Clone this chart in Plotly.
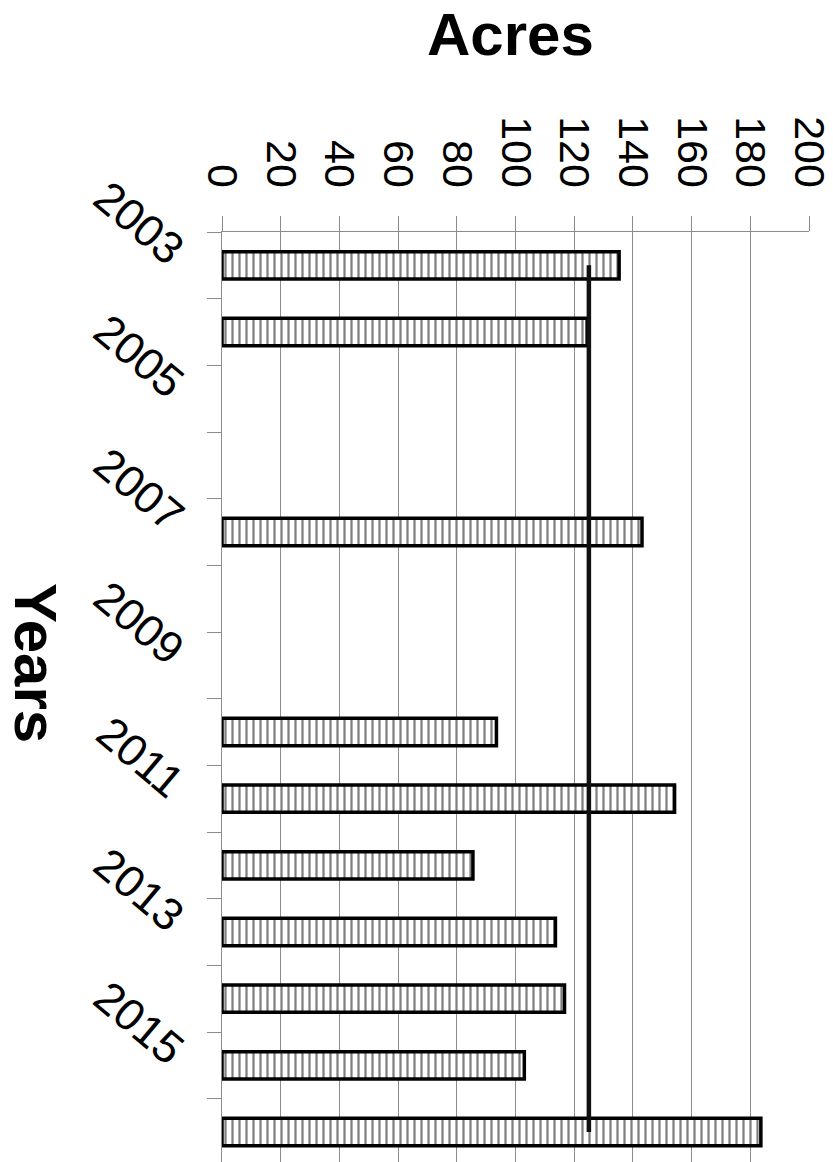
import plotly.graph_objects as go

years = [2003, 2004, 2005, 2006, 2007, 2008, 2009, 2010, 2011, 2012, 2013, 2014, 2015, 2016]
acres = [135.3, 124.4, None, None, 143.1, None, None, 93.5, 154.2, 85.5, 113.6, 116.7, 103.0, 183.6]
average_acres = [125.0] * len(years)
year_tick_labels = ["2003", "2005", "2007", "2009", "2011", "2013", "2015"]
year_tick_vals = [2003, 2005, 2007, 2009, 2011, 2013, 2015]
acre_ticks = [0, 20, 40, 60, 80, 100, 120, 140, 160, 180, 200]

FONT = "Liberation Sans, Arial, sans-serif"
GRID = "#8c8c8c"
W, H = 833, 1162
L, R, T, B = 222, 24, 232, 0
PW, PH = W - L - R, H - T - B

fig = go.Figure()
fig.add_trace(go.Bar(
    x=acres, y=years, orientation="h", width=0.41,
    marker=dict(color="white",
                line=dict(color="black", width=3.5),
                pattern=dict(shape="|", size=7, solidity=0.32,
                             fgcolor="black", bgcolor="white")),
    showlegend=False,
))
fig.add_trace(go.Scatter(
    x=average_acres, y=years, mode="lines",
    line=dict(color="#111111", width=4.5), showlegend=False,
))

fig.update_layout(
    width=W, height=H,
    margin=dict(l=L, r=R, t=T, b=B),
    paper_bgcolor="white", plot_bgcolor="white",
    font=dict(family=FONT, color="black"),
    xaxis=dict(side="top", range=[0, 200], tickvals=acre_ticks,
               tickangle=90, tickfont=dict(size=43, family=FONT),
               ticklabeloverflow="allow",
               showgrid=True, gridcolor=GRID, gridwidth=1,
               ticks="outside", ticklen=15, tickcolor=GRID, tickwidth=1,
               ticklabelstandoff=13,
               showline=True, linecolor=GRID, linewidth=1,
               zeroline=False),
    yaxis=dict(range=[2016.45, 2002.5], tickvals=year_tick_vals,
               ticktext=year_tick_labels, tickangle=40,
               tickfont=dict(size=45, family=FONT),
               ticklabeloverflow="allow",
               ticks="", ticklabelstandoff=30, ticklabelshift=9,
               showgrid=False, zeroline=False,
               showline=True, linecolor=GRID, linewidth=1,
               minor=dict(tickvals=[y + 0.5 for y in [2002] + years],
                          ticks="outside", ticklen=14, tickcolor=GRID,
                          tickwidth=1, showgrid=False)),
)

fig.add_annotation(text="<b>Acres</b>", xref="paper", yref="paper",
                   x=(510 - L) / PW, y=1 + (T - 35) / PH,
                   xanchor="center", yanchor="middle",
                   showarrow=False, font=dict(size=60, family=FONT))
fig.add_annotation(text="<b>Years</b>", textangle=90, xref="paper", yref="paper",
                   x=-(L - 36) / PW, y=1 - (663 - T) / PH,
                   xanchor="center", yanchor="middle",
                   showarrow=False, font=dict(size=60, family=FONT))

fig.write_html("out.html", config={"displayModeBar": False},
               post_script="document.body.style.margin='0';")
